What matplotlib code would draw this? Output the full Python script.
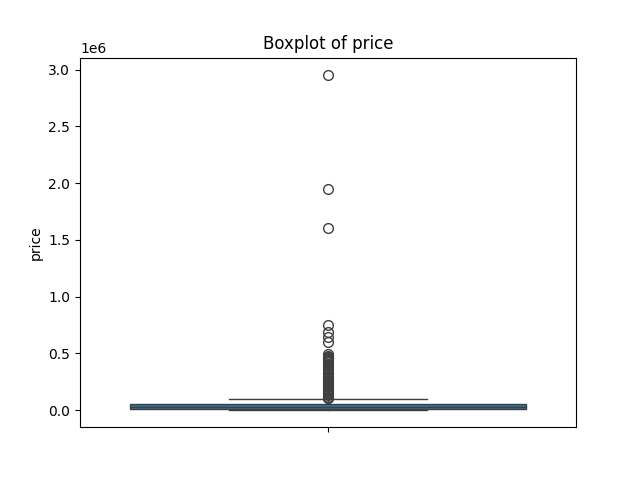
import matplotlib.pyplot as plt

# box statistics (price)
q1 = 7000
median = 27000
q3 = 50000
whisker_low = 0
whisker_high = 100000

# outliers above the upper whisker
outliers = [2950000, 1950000, 1600000,
            750000, 690000, 640000, 600000,
            495000, 480000, 470000, 460000, 450000, 440000, 430000,
            420000, 410000, 400000, 390000, 375000, 360000, 345000,
            330000, 315000, 300000, 290000, 280000, 270000, 260000,
            250000, 240000, 230000, 220000, 210000, 200000, 190000,
            180000, 170000, 160000, 150000, 140000, 130000, 120000,
            110000, 105000]

stats = [{
    "med": median, "q1": q1, "q3": q3,
    "whislo": whisker_low, "whishi": whisker_high,
    "fliers": outliers, "label": "",
}]

line_col = "#3f3f3f"
fig, ax = plt.subplots(figsize=(6.4, 4.8), dpi=100)
ax.bxp(stats, positions=[0], widths=0.8, patch_artist=True,
       boxprops=dict(facecolor="#3274a1", edgecolor=line_col, linewidth=1.0),
       medianprops=dict(color=line_col, linewidth=1.0),
       whiskerprops=dict(color=line_col, linewidth=1.0),
       capprops=dict(color=line_col, linewidth=1.0),
       flierprops=dict(marker="o", markerfacecolor="none",
                       markeredgecolor=line_col, markersize=7, linewidth=0))
ax.set_xlim(-0.5, 0.5)
ax.set_ylim(-0.15e6, 3.105e6)
ax.set_xticks([0])
ax.set_xticklabels([""])
ax.set_ylabel("price")
ax.set_title("Boxplot of price")
plt.savefig("out.png")
